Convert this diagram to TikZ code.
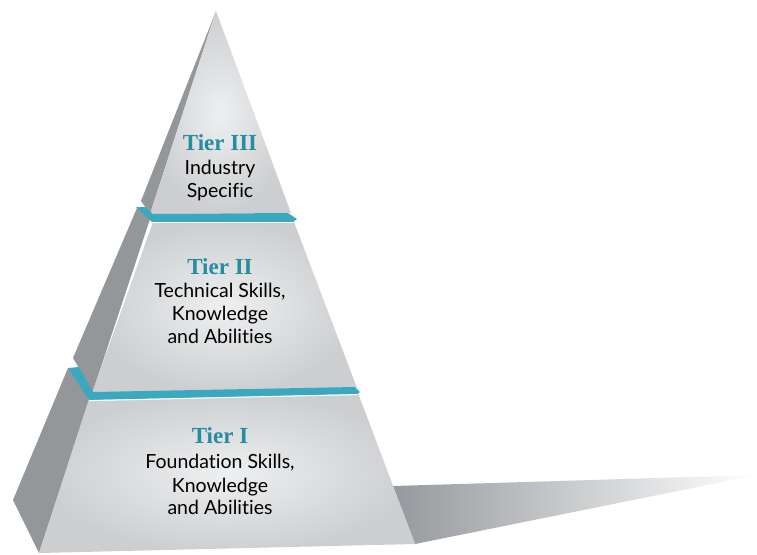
\documentclass[tikz,border=0pt]{standalone}
\usepackage{fontspec}
\setmainfont{Lato}[Ligatures={NoCommon}]
\newfontfamily\tierserif{Liberation Serif}
\definecolor{bandteal}{RGB}{58,168,190}
\definecolor{titleteal}{RGB}{38,140,160}
\definecolor{sidegrey}{RGB}{148,151,154}
\definecolor{facein}{RGB}{238,239,240}
\definecolor{faceout}{RGB}{204,206,208}
\definecolor{shadowgrey}{RGB}{150,153,157}
\tikzset{
  sideface/.style={fill=sidegrey},
  frontface/.style={inner color=facein, outer color=faceout},
  band/.style={fill=bandteal},
  glint/.style={draw=white, line width=1pt},
  tiertitle/.style={anchor=base, text=titleteal, font=\tierserif\bfseries\fontsize{23}{25}\selectfont},
  tierline/.style={anchor=base, text=black, font=\fontsize{19.5}{22}\selectfont},
}
\begin{document}
\begin{tikzpicture}[x=1pt,y=-1pt]
\useasboundingbox (0,0) rectangle (757,554);

% cast shadow to the right of the base
\shade[left color=shadowgrey, right color=white] (393,486) -- (757,475) -- (415,544) -- cycle;

% Tier I block
\fill[sideface] (68,368) -- (13,500) -- (39,553) -- (90,399) -- cycle;
\shade[frontface] (89,399) -- (358,393) -- (415,544) -- (39,553) -- cycle;

% Tier II block
\fill[sideface] (137,208) -- (73,358) -- (79,368) -- (92,394) -- (152,213) -- cycle;
\shade[frontface] (153,222) -- (294,222) -- (357,388) -- (92,393) -- cycle;

% Tier III block
\fill[sideface] (216,11) -- (141,201) -- (146,208) -- (150,214) -- cycle;
\shade[frontface] (216,11) -- (291,213) -- (150,214) -- cycle;

% teal bands between the tiers
\fill[band] (136,207) -- (145,207) -- (153,214) -- (288,213) -- (297,219) -- (293,222) -- (152,222) -- cycle;
\draw[glint] (152,222.6) -- (293,222.6);
\fill[band] (68,368) -- (79,367) -- (93,392) -- (355,387) -- (360,392) -- (357,394) -- (89,400) -- cycle;
\draw[glint] (89,400.6) -- (357,394.6);

% labels
\node[tiertitle] (t3title) at (220,150) {Tier III};
\node[tierline] (t3a) at (220,174) {Industry};
\node[tierline] (t3b) at (220,197) {Specific};

\node[tiertitle] (t2title) at (220,274) {Tier II};
\node[tierline] (t2a) at (220,297) {Technical Skills,};
\node[tierline] (t2b) at (220,320) {Knowledge};
\node[tierline] (t2c) at (220,343) {and Abilities};

\node[tiertitle] (t1title) at (220,443) {Tier I};
\node[tierline] (t1a) at (220,468) {Foundation Skills,};
\node[tierline] (t1b) at (220,492) {Knowledge};
\node[tierline] (t1c) at (220,514) {and Abilities};
\end{tikzpicture}
\end{document}
